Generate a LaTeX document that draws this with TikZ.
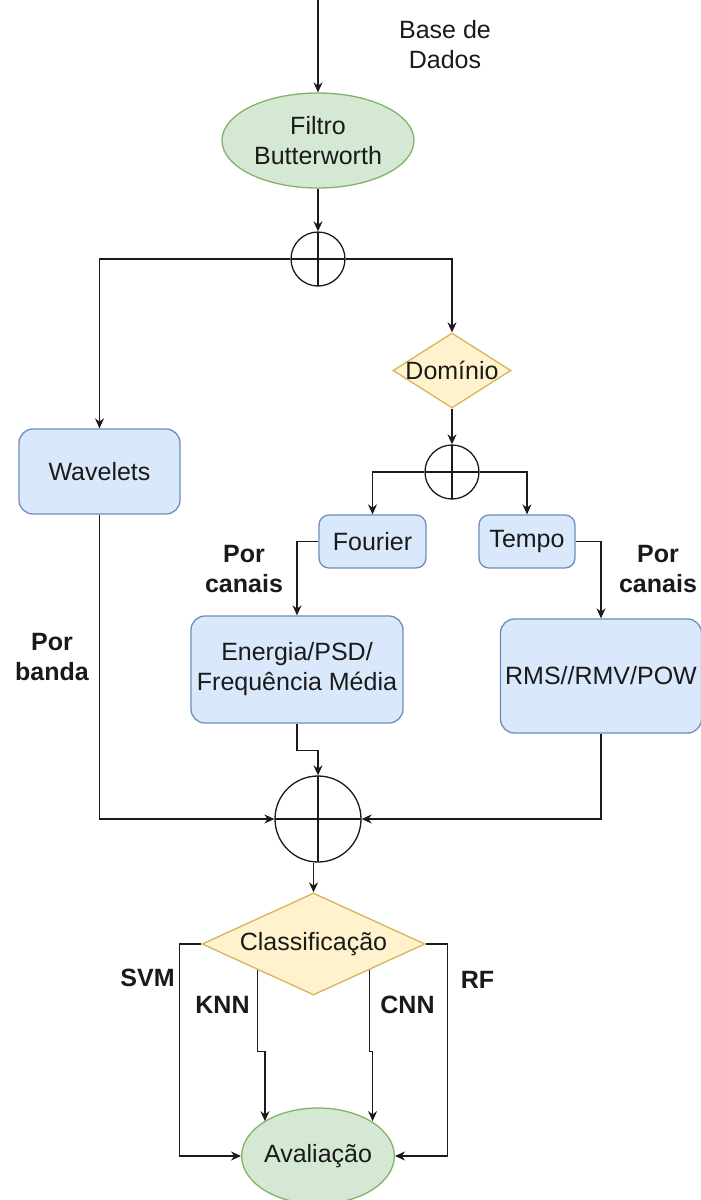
\documentclass[tikz,border=0pt]{standalone}
\usepackage{fontspec}
\setmainfont{Liberation Sans}
\usetikzlibrary{shapes.geometric,arrows.meta,calc}
\definecolor{bluefill}{HTML}{DAE8FC}
\definecolor{blueline}{HTML}{6C8EBF}
\definecolor{greenfill}{HTML}{D5E8D4}
\definecolor{greenline}{HTML}{82B366}
\definecolor{yellowfill}{HTML}{FFF2CC}
\definecolor{yellowline}{HTML}{D6B656}
\definecolor{ink}{HTML}{1A1A1A}

\begin{document}
\begin{tikzpicture}[x=1pt,y=-1pt,
  every node/.style={font=\fontsize{25}{30}\selectfont, text=ink},
  box/.style={draw=blueline, fill=bluefill, line width=1.3, rounded corners=14, inner sep=0, align=center},
  oval/.style={ellipse, draw=greenline, fill=greenfill, line width=1.3, inner sep=0, align=center},
  choice/.style={diamond, draw=yellowline, fill=yellowfill, line width=1.3, inner sep=0},
  sum/.style={circle, draw=ink, line width=1.3, inner sep=0,
    path picture={\draw[ink, line width=1.3]
      (path picture bounding box.north) -- (path picture bounding box.south)
      (path picture bounding box.west) -- (path picture bounding box.east);}},
  wire/.style={draw=ink, line width=1.3},
  arr/.style={wire, -{Stealth[length=10,width=9]}},
  tag/.style={font=\fontsize{25}{30}\selectfont\bfseries, align=center},
]
\clip (0,0) rectangle (701,1200);
\fill[white] (0,0) rectangle (701,1200);

% processing blocks
\coordinate (src) at (318,0);
\node[oval, minimum width=192, minimum height=95] (filt) at (318,140.5) {Filtro\\Butterworth};
\node[align=center] (base) at (445,45) {Base de\\Dados};
\node[sum, minimum size=54] (s1) at (318,259) {};
\node[box, minimum width=161, minimum height=85] (wav) at (99.5,471.5) {Wavelets};
\node[choice, minimum width=118, minimum height=75, label=center:Domínio] (dom) at (452,370.5) {};
\node[sum, minimum size=54] (s2) at (452,472) {};
\node[box, minimum width=107, minimum height=53, rounded corners=10] (fou) at (372.5,541.5) {Fourier};
\node[box, minimum width=96, minimum height=53, rounded corners=10] (tem) at (527,541.5) {Tempo};
\node[box, minimum width=212, minimum height=107] (en) at (297,669.5) {Energia/PSD/\\Frequência Média};
\node[box, minimum width=201, minimum height=114] (rms) at (601,676) {RMS//RMV/POW};
\node[sum, minimum size=86] (s3) at (318,819) {};
\node[choice, minimum width=223, minimum height=102, label=center:Classificação] (cls) at (313.5,944) {};
\node[oval, minimum width=150, minimum height=96] (av) at (318,1156) {Avaliação};

% connectors
\draw[arr] (src) -- (filt);
\draw[arr] (filt) -- (s1);
\draw[arr] (s1.west) -| (wav.north);
\draw[arr] (s1.east) -| (dom.north);
\draw[arr] (dom) -- (s2);
\draw[arr] (s2.west) -| (fou.north);
\draw[arr] (s2.east) -| (tem.north);
\draw[arr] (fou.west) -| (en.north);
\draw[arr] (tem.east) -| (rms.north);
\draw[arr] (en.south) -- ++(0,27) -| (s3.north);
\draw[arr] (wav.south) |- (s3.west);
\draw[arr] (rms.south) |- (s3.east);
\draw[arr] (cls.north |- s3.south) -- (cls.north);
\draw[arr] (cls.west) -- ++(-22,0) |- (av.west);
\draw[arr] (cls.east) -- ++(22,0) |- (av.east);
\draw[arr] (cls.south west) -- ++(0,81.5) -- ++(7.5,0) coordinate (kb) -- (kb |- av.147);
\draw[arr] (cls.south east) -- ++(0,81.5) -- ++(3,0) coordinate (cb) -- (cb |- av.33);

% edge labels
\node[tag] (pc1) at (244,569) {Por\\canais};
\node[tag] (pc2) at (658,569) {Por\\canais};
\node[tag] (pb) at (52,657) {Por\\banda};
\node[tag] (svm) at (147.5,978) {SVM};
\node[tag] (knn) at (222.5,1005) {KNN};
\node[tag] (cnn) at (407.5,1005) {CNN};
\node[tag] (rf) at (477.5,980) {RF};
\end{tikzpicture}
\end{document}
